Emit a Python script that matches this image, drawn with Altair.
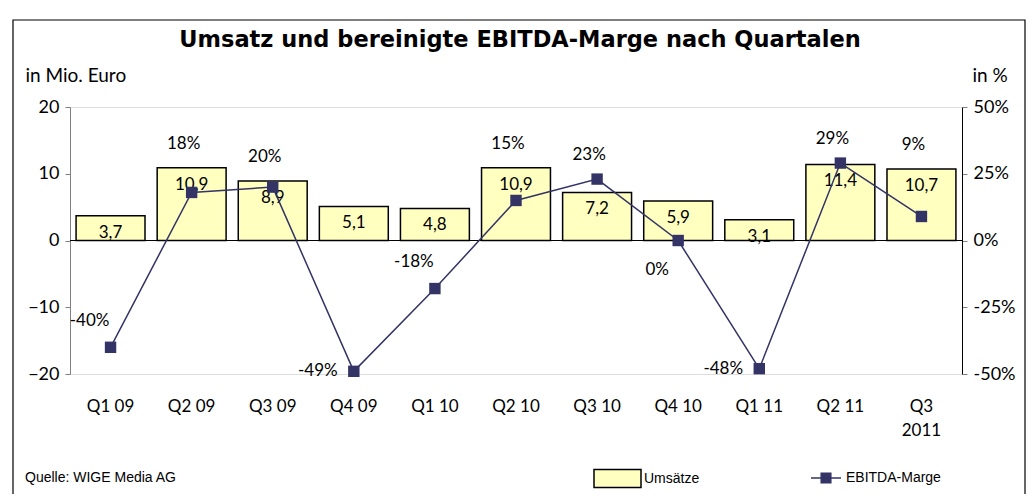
import altair as alt
import pandas as pd

quarters = ["Q1 09", "Q2 09", "Q3 09", "Q4 09", "Q1 10", "Q2 10", "Q3 10", "Q4 10", "Q1 11", "Q2 11", "Q3 2011"]
umsatz = [3.7, 10.9, 8.9, 5.1, 4.8, 10.9, 7.2, 5.9, 3.1, 11.4, 10.7]
marge = [-40, 18, 20, -49, -18, 15, 23, 0, -48, 29, 9]

df = pd.DataFrame({"q": quarters, "umsatz": umsatz, "marge": marge})
df["ulabel"] = [f"{v:.1f}".replace(".", ",") for v in umsatz]
df["mlabel"] = [f"{v}%" for v in marge]
df["serie_u"] = "Umsätze"
df["serie_m"] = "EBITDA-Marge"
one = pd.DataFrame({"a": [0]})

FONT = "Lato"
W, H = 892, 267
PL, PT = 62, 99
TOTW, TOTH = 1018, 486

xenc = alt.X("q:N", sort=quarters, title=None,
             scale=alt.Scale(paddingInner=0.15, paddingOuter=0.075),
             axis=alt.Axis(domain=False, ticks=False, labelAngle=0, labelPadding=24,
                           labelFontSize=17, labelFont=FONT, labelColor="black",
                           labelExpr="datum.label == 'Q3 2011' ? ['Q3', '2011'] : datum.label",
                           labelLineHeight=24))

yl = alt.Y("umsatz:Q", scale=alt.Scale(domain=[-20, 20], nice=False),
           axis=alt.Axis(values=[-20, -10, 0, 10, 20], grid=False, domainColor="#808080",
                         tickColor="#808080", tickSize=5, labelFontSize=18, labelFont=FONT,
                         labelColor="black", labelPadding=6,
                         title="in Mio. Euro", titleAngle=0, titleX=-45, titleY=-32,
                         titleAlign="left", titleBaseline="middle", titleFont=FONT,
                         titleFontSize=19, titleFontWeight="normal", titleColor="black"))

bars = alt.Chart(df).mark_bar(fill="#FFFFC0", stroke="black", strokeWidth=1.5).encode(
    x=xenc, y=yl,
    fill=alt.Fill("serie_u:N", scale=alt.Scale(range=["#FFFFC0"]),
                  legend=alt.Legend(title=None, orient="none", legendX=523, legendY=347,
                                    symbolType="M-1,-0.38H1V0.38H-1Z", symbolSize=2209,
                                    symbolStrokeColor="black", symbolStrokeWidth=1.5,
                                    labelFont="Liberation Sans", labelFontSize=14,
                                    labelColor="black", labelOffset=2, padding=0)),
)
bartext = alt.Chart(df).mark_text(fontSize=17, font=FONT, baseline="middle", dy=17, color="black").encode(
    x=alt.X("q:N", sort=quarters), y=alt.Y("umsatz:Q"), text="ulabel:N")
zero = alt.Chart(one).mark_rule(color="black", strokeWidth=1).encode(y=alt.datum(0))

left = alt.layer(bars, bartext, zero)

yr = alt.Y("marge:Q", scale=alt.Scale(domain=[-50, 50], nice=False),
           axis=alt.Axis(orient="right", values=[-50, -25, 0, 25, 50], grid=False,
                         domainColor="black", tickColor="#808080", tickSize=5,
                         labelExpr="datum.value + '%'", labelFontSize=18, labelFont=FONT,
                         labelColor="black", labelPadding=6,
                         title="in %", titleAngle=0, titleX=10, titleY=-32,
                         titleAlign="left", titleBaseline="middle", titleFont=FONT,
                         titleFontSize=19, titleFontWeight="normal", titleColor="black"))

line = alt.Chart(df).mark_line(color="#333366", strokeWidth=1.5).encode(
    x=alt.X("q:N", sort=quarters), y=yr,
    stroke=alt.Stroke("serie_m:N", scale=alt.Scale(range=["#333366"]),
                      legend=alt.Legend(title=None, orient="none", legendX=740, legendY=355,
                                        symbolType="M-1,0H1M-0.32,-0.32H0.32V0.32H-0.32Z",
                                        symbolSize=900, symbolFillColor="#333366",
                                        symbolStrokeWidth=1.5,
                                        labelFont="Liberation Sans", labelFontSize=14,
                                        labelColor="black", labelOffset=4, padding=0)),
)
points = alt.Chart(df).mark_square(color="#333366", size=130, opacity=1).encode(
    x=alt.X("q:N", sort=quarters), y=alt.Y("marge:Q"))

label_base = alt.Chart(df).transform_calculate(
    ly="datum.marge > 0 ? max(datum.marge, datum.umsatz * 2.5) + 9"
       " : datum.marge < -45 ? datum.marge"
       " : datum.marge == 0 ? -11 : datum.marge + 10",
    grp="datum.marge > 0 ? 'up' : datum.marge < -45 ? 'side' : 'left'",
)
def label_layer(group, dx):
    return label_base.transform_filter(f"datum.grp == '{group}'").mark_text(
        fontSize=17, font=FONT, baseline="middle", color="black", dx=dx).encode(
        x=alt.X("q:N", sort=quarters), y=alt.Y("ly:Q"), text="mlabel:N")

right = alt.layer(line, points, label_layer("up", -8), label_layer("left", -21),
                  label_layer("side", -36))

title = alt.Chart(one).mark_text(text="Umsatz und bereinigte EBITDA-Marge nach Quartalen",
                                 font="DejaVu Sans", fontSize=22.5, fontWeight="bold", color="black",
                                 align="center", baseline="middle").encode(
    x=alt.value(W / 2 + 4), y=alt.value(-67))
quelle = alt.Chart(one).mark_text(text="Quelle: WIGE Media AG", font="Liberation Sans", fontSize=14,
                                  align="left", baseline="middle", color="black").encode(
    x=alt.value(-45), y=alt.value(371))
frame = alt.Chart(one).mark_rect(fill="transparent", stroke="black", strokeWidth=1.2).encode(
    x=alt.value(-57), x2=alt.value(TOTW - PL - 1), y=alt.value(-87), y2=alt.value(TOTH - PT + 20))

chart = alt.layer(left, right, title, quelle, frame).resolve_scale(
    y="independent", fill="independent", stroke="independent"
).properties(
    width=W, height=H,
    autosize=alt.AutoSizeParams(type="none"),
    padding={"left": PL, "top": PT, "right": TOTW - PL - W, "bottom": TOTH - PT - H},
).configure_view(strokeWidth=0).configure(background="white")

chart.save("out.html", embed_options={"renderer": "svg", "actions": False})
